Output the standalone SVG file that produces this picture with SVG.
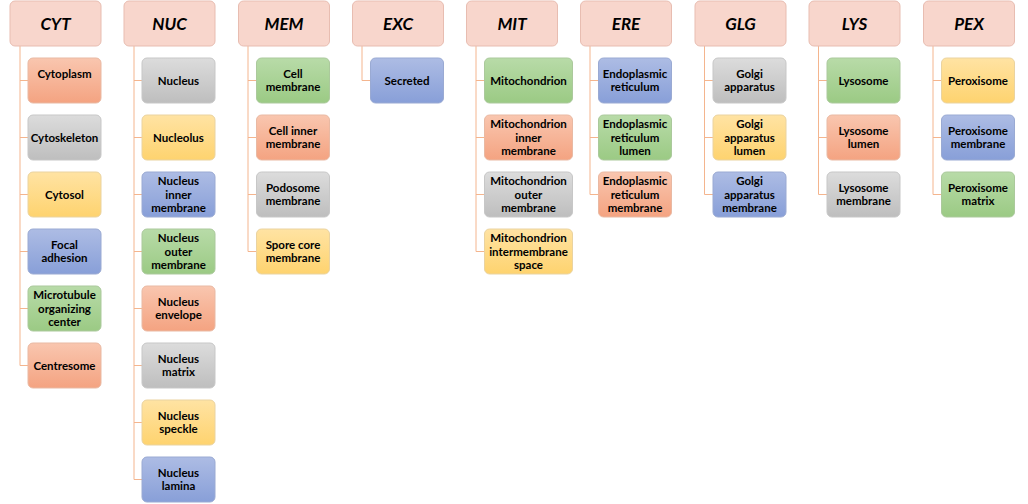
<svg xmlns="http://www.w3.org/2000/svg" width="1028" height="504" viewBox="0 0 1028 504">
<defs>
<linearGradient id="gO" x1="0" y1="0" x2="0" y2="1"><stop offset="0" stop-color="#F9C6AF"/><stop offset="1" stop-color="#F4A381"/></linearGradient>
<linearGradient id="gG" x1="0" y1="0" x2="0" y2="1"><stop offset="0" stop-color="#DCDCDC"/><stop offset="1" stop-color="#BEBEBE"/></linearGradient>
<linearGradient id="gY" x1="0" y1="0" x2="0" y2="1"><stop offset="0" stop-color="#FFE3A3"/><stop offset="1" stop-color="#FED36F"/></linearGradient>
<linearGradient id="gB" x1="0" y1="0" x2="0" y2="1"><stop offset="0" stop-color="#ADBCE4"/><stop offset="1" stop-color="#889FD8"/></linearGradient>
<linearGradient id="gN" x1="0" y1="0" x2="0" y2="1"><stop offset="0" stop-color="#B8DBA8"/><stop offset="1" stop-color="#9BCA84"/></linearGradient>
</defs>
<style>
.h rect{fill:#F8D6CC;stroke:#E8BDB1;stroke-width:1}
.h text{font-family:Lato,"Liberation Sans",sans-serif;font-weight:bold;font-style:italic;font-size:17px;fill:#000;text-anchor:middle}
.c rect{stroke:#CFCFCF;stroke-width:1}
.c text{font-family:Lato,"Liberation Sans",sans-serif;font-weight:bold;font-size:11.5px;fill:#000;text-anchor:middle}
.o rect{fill:url(#gO);stroke:#E9B9A3}
.g rect{fill:url(#gG);stroke:#C7C7C7}
.y rect{fill:url(#gY);stroke:#EAD3A0}
.b rect{fill:url(#gB);stroke:#9AAAD3}
.n rect{fill:url(#gN);stroke:#ABC99C}
#connectors line{stroke:#F4B58E;stroke-width:1}
</style>
<g id="connectors">
<line x1="20" y1="46" x2="20" y2="365.5"/>
<line x1="20" y1="80.5" x2="28" y2="80.5"/><line x1="20" y1="137.5" x2="28" y2="137.5"/><line x1="20" y1="194.5" x2="28" y2="194.5"/><line x1="20" y1="251.5" x2="28" y2="251.5"/><line x1="20" y1="308.5" x2="28" y2="308.5"/><line x1="20" y1="365.5" x2="28" y2="365.5"/>
<line x1="134" y1="46" x2="134" y2="479.5"/>
<line x1="134" y1="80.5" x2="142" y2="80.5"/><line x1="134" y1="137.5" x2="142" y2="137.5"/><line x1="134" y1="194.5" x2="142" y2="194.5"/><line x1="134" y1="251.5" x2="142" y2="251.5"/><line x1="134" y1="308.5" x2="142" y2="308.5"/><line x1="134" y1="365.5" x2="142" y2="365.5"/><line x1="134" y1="422.5" x2="142" y2="422.5"/><line x1="134" y1="479.5" x2="142" y2="479.5"/>
<line x1="248" y1="46" x2="248" y2="251.5"/>
<line x1="248" y1="80.5" x2="256.5" y2="80.5"/><line x1="248" y1="137.5" x2="256.5" y2="137.5"/><line x1="248" y1="194.5" x2="256.5" y2="194.5"/><line x1="248" y1="251.5" x2="256.5" y2="251.5"/>
<line x1="362" y1="46" x2="362" y2="80.5"/>
<line x1="362" y1="80.5" x2="370.5" y2="80.5"/>
<line x1="476" y1="46" x2="476" y2="251.5"/>
<line x1="476" y1="80.5" x2="484.5" y2="80.5"/><line x1="476" y1="137.5" x2="484.5" y2="137.5"/><line x1="476" y1="194.5" x2="484.5" y2="194.5"/><line x1="476" y1="251.5" x2="484.5" y2="251.5"/>
<line x1="590" y1="46" x2="590" y2="194.5"/>
<line x1="590" y1="80.5" x2="598.5" y2="80.5"/><line x1="590" y1="137.5" x2="598.5" y2="137.5"/><line x1="590" y1="194.5" x2="598.5" y2="194.5"/>
<line x1="704.5" y1="46" x2="704.5" y2="194.5"/>
<line x1="704.5" y1="80.5" x2="713" y2="80.5"/><line x1="704.5" y1="137.5" x2="713" y2="137.5"/><line x1="704.5" y1="194.5" x2="713" y2="194.5"/>
<line x1="818.5" y1="46" x2="818.5" y2="194.5"/>
<line x1="818.5" y1="80.5" x2="827" y2="80.5"/><line x1="818.5" y1="137.5" x2="827" y2="137.5"/><line x1="818.5" y1="194.5" x2="827" y2="194.5"/>
<line x1="933" y1="46" x2="933" y2="194.5"/>
<line x1="933" y1="80.5" x2="941.5" y2="80.5"/><line x1="933" y1="137.5" x2="941.5" y2="137.5"/><line x1="933" y1="194.5" x2="941.5" y2="194.5"/>
</g>

<g id="h-CYT" class="h"><rect x="10" y="1" width="91" height="45" rx="5"/><text x="55.5" y="29.5">CYT</text></g>
<g id="h-NUC" class="h"><rect x="124" y="1" width="91" height="45" rx="5"/><text x="169.5" y="29.5">NUC</text></g>
<g id="h-MEM" class="h"><rect x="238.5" y="1" width="91" height="45" rx="5"/><text x="284" y="29.5">MEM</text></g>
<g id="h-EXC" class="h"><rect x="352.5" y="1" width="91" height="45" rx="5"/><text x="398" y="29.5">EXC</text></g>
<g id="h-MIT" class="h"><rect x="466.5" y="1" width="91" height="45" rx="5"/><text x="512" y="29.5">MIT</text></g>
<g id="h-ERE" class="h"><rect x="580.5" y="1" width="91" height="45" rx="5"/><text x="626" y="29.5">ERE</text></g>
<g id="h-GLG" class="h"><rect x="695" y="1" width="91" height="45" rx="5"/><text x="740.5" y="29.5">GLG</text></g>
<g id="h-LYS" class="h"><rect x="809" y="1" width="91" height="45" rx="5"/><text x="854.5" y="29.5">LYS</text></g>
<g id="h-PEX" class="h"><rect x="923.5" y="1" width="91" height="45" rx="5"/><text x="969" y="29.5">PEX</text></g>

<g id="cyt-1" class="c o"><rect x="28" y="58" width="73" height="45" rx="5"/><text x="64.5" y="78">Cytoplasm</text></g>
<g id="cyt-2" class="c g"><rect x="28" y="115" width="73" height="45" rx="5"/><text x="64.5" y="141.5">Cytoskeleton</text></g>
<g id="cyt-3" class="c y"><rect x="28" y="172" width="73" height="45" rx="5"/><text x="64.5" y="198.5">Cytosol</text></g>
<g id="cyt-4" class="c b"><rect x="28" y="229" width="73" height="45" rx="5"/><text x="64.5" y="248.8">Focal</text><text x="64.5" y="262.3">adhesion</text></g>
<g id="cyt-5" class="c n"><rect x="28" y="286" width="73" height="45" rx="5"/><text x="64.5" y="299">Microtubule</text><text x="64.5" y="312.5">organizing</text><text x="64.5" y="326">center</text></g>
<g id="cyt-6" class="c o"><rect x="28" y="343" width="73" height="45" rx="5"/><text x="64.5" y="369.5">Centresome</text></g>

<g id="nuc-1" class="c g"><rect x="142" y="58" width="73" height="45" rx="5"/><text x="178.5" y="84.5">Nucleus</text></g>
<g id="nuc-2" class="c y"><rect x="142" y="115" width="73" height="45" rx="5"/><text x="178.5" y="141.5">Nucleolus</text></g>
<g id="nuc-3" class="c b"><rect x="142" y="172" width="73" height="45" rx="5"/><text x="178.5" y="185">Nucleus</text><text x="178.5" y="198.5">inner</text><text x="178.5" y="212">membrane</text></g>
<g id="nuc-4" class="c n"><rect x="142" y="229" width="73" height="45" rx="5"/><text x="178.5" y="242">Nucleus</text><text x="178.5" y="255.5">outer</text><text x="178.5" y="269">membrane</text></g>
<g id="nuc-5" class="c o"><rect x="142" y="286" width="73" height="45" rx="5"/><text x="178.5" y="305.8">Nucleus</text><text x="178.5" y="319.3">envelope</text></g>
<g id="nuc-6" class="c g"><rect x="142" y="343" width="73" height="45" rx="5"/><text x="178.5" y="362.8">Nucleus</text><text x="178.5" y="376.3">matrix</text></g>
<g id="nuc-7" class="c y"><rect x="142" y="400" width="73" height="45" rx="5"/><text x="178.5" y="419.8">Nucleus</text><text x="178.5" y="433.3">speckle</text></g>
<g id="nuc-8" class="c b"><rect x="142" y="457" width="73" height="45" rx="5"/><text x="178.5" y="476.8">Nucleus</text><text x="178.5" y="490.3">lamina</text></g>

<g id="mem-1" class="c n"><rect x="256.5" y="58" width="73" height="45" rx="5"/><text x="293" y="77.8">Cell</text><text x="293" y="91.3">membrane</text></g>
<g id="mem-2" class="c o"><rect x="256.5" y="115" width="73" height="45" rx="5"/><text x="293" y="134.8">Cell inner</text><text x="293" y="148.3">membrane</text></g>
<g id="mem-3" class="c g"><rect x="256.5" y="172" width="73" height="45" rx="5"/><text x="293" y="191.8">Podosome</text><text x="293" y="205.3">membrane</text></g>
<g id="mem-4" class="c y"><rect x="256.5" y="229" width="73" height="45" rx="5"/><text x="293" y="248.8">Spore core</text><text x="293" y="262.3">membrane</text></g>

<g id="exc-1" class="c b"><rect x="370.5" y="58" width="73" height="45" rx="5"/><text x="407" y="84.5">Secreted</text></g>

<g id="mit-1" class="c n"><rect x="484.5" y="58" width="88" height="45" rx="5"/><text x="528.5" y="84.5">Mitochondrion</text></g>
<g id="mit-2" class="c o"><rect x="484.5" y="115" width="88" height="45" rx="5"/><text x="528.5" y="128">Mitochondrion</text><text x="528.5" y="141.5">inner</text><text x="528.5" y="155">membrane</text></g>
<g id="mit-3" class="c g"><rect x="484.5" y="172" width="88" height="45" rx="5"/><text x="528.5" y="185">Mitochondrion</text><text x="528.5" y="198.5">outer</text><text x="528.5" y="212">membrane</text></g>
<g id="mit-4" class="c y"><rect x="484.5" y="229" width="88" height="45" rx="5"/><text x="528.5" y="242">Mitochondrion</text><text x="528.5" y="255.5">intermembrane</text><text x="528.5" y="269">space</text></g>

<g id="ere-1" class="c b"><rect x="598.5" y="58" width="73" height="45" rx="5"/><text x="635" y="77.8">Endoplasmic</text><text x="635" y="91.3">reticulum</text></g>
<g id="ere-2" class="c n"><rect x="598.5" y="115" width="73" height="45" rx="5"/><text x="635" y="128">Endoplasmic</text><text x="635" y="141.5">reticulum</text><text x="635" y="155">lumen</text></g>
<g id="ere-3" class="c o"><rect x="598.5" y="172" width="73" height="45" rx="5"/><text x="635" y="185">Endoplasmic</text><text x="635" y="198.5">reticulum</text><text x="635" y="212">membrane</text></g>

<g id="glg-1" class="c g"><rect x="713" y="58" width="73" height="45" rx="5"/><text x="749.5" y="77.8">Golgi</text><text x="749.5" y="91.3">apparatus</text></g>
<g id="glg-2" class="c y"><rect x="713" y="115" width="73" height="45" rx="5"/><text x="749.5" y="128">Golgi</text><text x="749.5" y="141.5">apparatus</text><text x="749.5" y="155">lumen</text></g>
<g id="glg-3" class="c b"><rect x="713" y="172" width="73" height="45" rx="5"/><text x="749.5" y="185">Golgi</text><text x="749.5" y="198.5">apparatus</text><text x="749.5" y="212">membrane</text></g>

<g id="lys-1" class="c n"><rect x="827" y="58" width="73" height="45" rx="5"/><text x="863.5" y="84.5">Lysosome</text></g>
<g id="lys-2" class="c o"><rect x="827" y="115" width="73" height="45" rx="5"/><text x="863.5" y="134.8">Lysosome</text><text x="863.5" y="148.3">lumen</text></g>
<g id="lys-3" class="c g"><rect x="827" y="172" width="73" height="45" rx="5"/><text x="863.5" y="191.8">Lysosome</text><text x="863.5" y="205.3">membrane</text></g>

<g id="pex-1" class="c y"><rect x="941.5" y="58" width="73" height="45" rx="5"/><text x="978" y="84.5">Peroxisome</text></g>
<g id="pex-2" class="c b"><rect x="941.5" y="115" width="73" height="45" rx="5"/><text x="978" y="134.8">Peroxisome</text><text x="978" y="148.3">membrane</text></g>
<g id="pex-3" class="c n"><rect x="941.5" y="172" width="73" height="45" rx="5"/><text x="978" y="191.8">Peroxisome</text><text x="978" y="205.3">matrix</text></g>
</svg>
